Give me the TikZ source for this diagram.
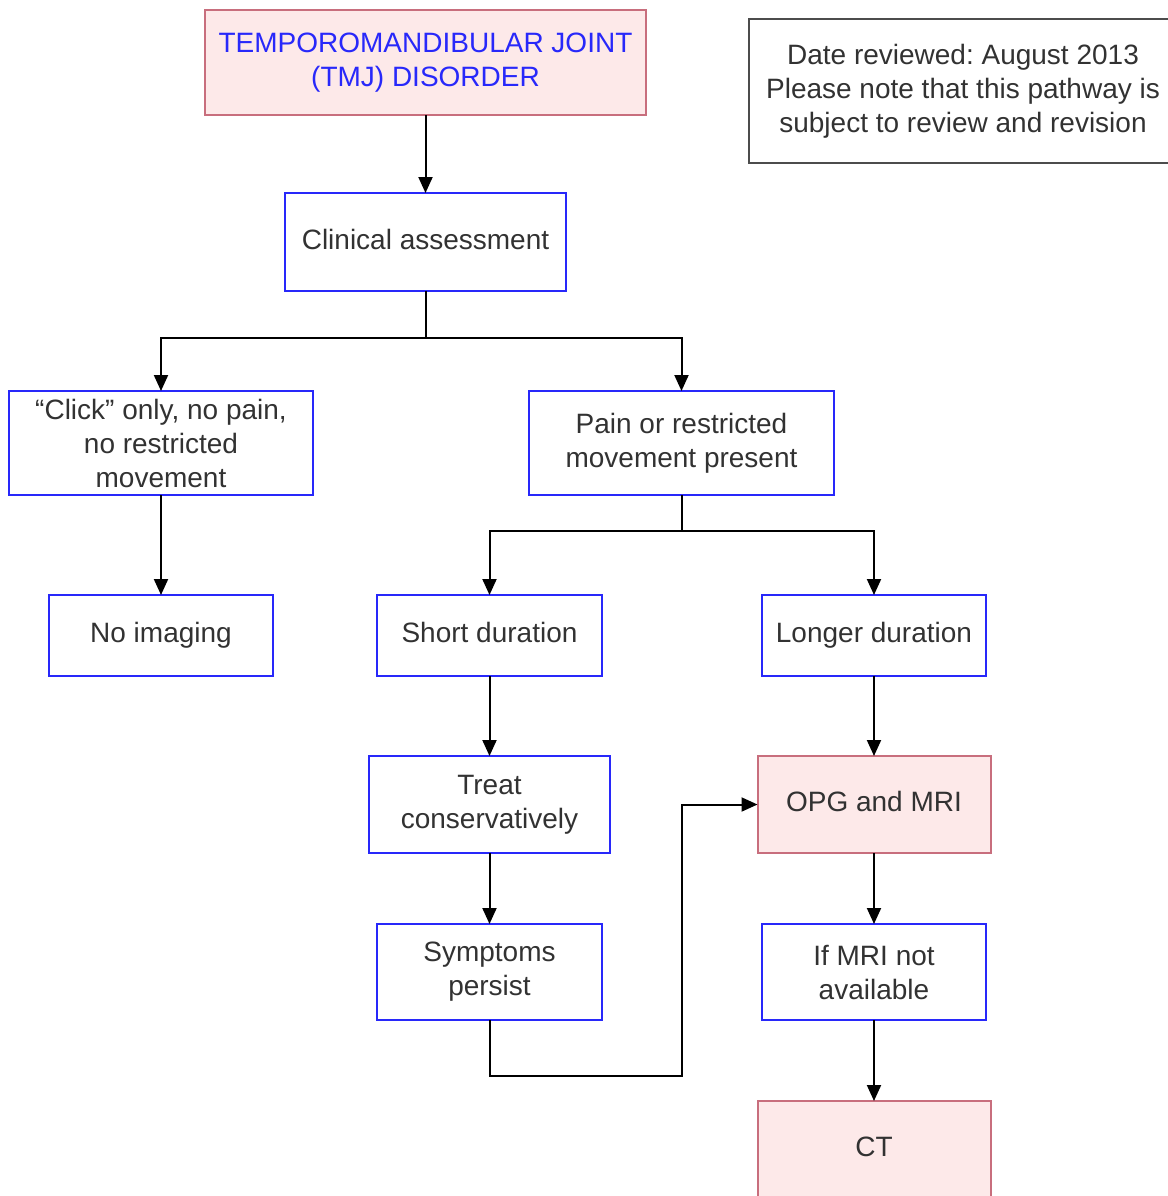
\documentclass[tikz,border=0pt]{standalone}
\usepackage{fontspec}
\setmainfont{Liberation Sans}
\usetikzlibrary{positioning,arrows.meta}
\definecolor{boxblue}{RGB}{40,40,250}
\definecolor{pinkfill}{RGB}{253,233,233}
\definecolor{pinkline}{RGB}{200,110,125}
\definecolor{textgray}{RGB}{50,50,50}
\frenchspacing

\begin{document}
\begin{tikzpicture}[
    box/.style={draw=boxblue, line width=1pt, align=center, inner sep=2pt, outer sep=0pt, text=textgray,
                font=\fontsize{14}{17}\selectfont},
    redbox/.style={box, draw=pinkline, fill=pinkfill},
    oneline/.style={text height=10pt, text depth=3pt},
    arr/.style={-{Triangle[length=8pt,width=7pt]}, line width=1pt}
]
\useasboundingbox (0,0) rectangle (584pt,-598pt);
\node[redbox, minimum width=220.5pt, minimum height=52.5pt, text=boxblue] (tmj) at (212.75pt,-31.25pt)
    {TEMPOROMANDIBULAR JOINT\\(TMJ) DISORDER};
\node[draw=black!70, line width=1pt, align=center, anchor=north west, minimum width=214pt, minimum height=72pt,
      text=textgray, font=\fontsize{14}{17}\selectfont] (note) at (374pt,-9pt)
    {Date reviewed: August 2013\\Please note that this pathway is\\subject to review and revision};
\node[box, oneline, below=39pt of tmj, minimum width=140.5pt, minimum height=49pt] (clinical) {Clinical assessment};
\node[box, below=50pt of clinical, xshift=-132.25pt, minimum width=152pt, minimum height=52pt] (click)
    {``Click'' only, no pain,\\no restricted\\movement};
\node[box, below=50pt of clinical, xshift=128pt, minimum width=152.5pt, minimum height=52pt] (pain)
    {Pain or restricted\\movement present};
\node[box, oneline, below=50pt of click, minimum width=112pt, minimum height=40.5pt] (noimg) {No imaging};
\node[box, oneline, below=50pt of pain, xshift=-96pt, minimum width=112.5pt, minimum height=40.5pt] (short) {Short duration};
\node[box, oneline, below=50pt of pain, xshift=96.25pt, minimum width=112pt, minimum height=40.5pt] (longer) {Longer duration};
\node[box, below=40pt of short, minimum width=120.5pt, minimum height=48.5pt] (treat) {Treat\\conservatively};
\node[redbox, oneline, below=40pt of longer, minimum width=116.5pt, minimum height=48.5pt] (opg) {OPG and MRI};
\node[box, below=35.5pt of treat, minimum width=112.5pt, minimum height=48pt] (persist) {Symptoms\\persist};
\node[box, below=35.5pt of opg, minimum width=112pt, minimum height=48pt] (nomri) {If MRI not\\available};
\node[redbox, oneline, below=40.5pt of nomri, minimum width=116.5pt, minimum height=48.5pt] (ct) {CT};
\coordinate[below=23.5pt of clinical] (split1);
\coordinate[below=18pt of pain] (split2);
\coordinate[below=28pt of persist] (loop);
\coordinate[left=38pt of opg] (bend);
\draw[arr] (tmj) -- (clinical);
\draw[line width=1pt] (clinical) -- (split1);
\draw[arr] (split1) -| (click);
\draw[arr] (split1) -| (pain);
\draw[arr] (click) -- (noimg);
\draw[line width=1pt] (pain) -- (split2);
\draw[arr] (split2) -| (short);
\draw[arr] (split2) -| (longer);
\draw[arr] (short) -- (treat);
\draw[arr] (treat) -- (persist);
\draw[arr] (longer) -- (opg);
\draw[arr] (opg) -- (nomri);
\draw[arr] (nomri) -- (ct);
\draw[arr] (persist) -- (loop) -| (bend) -- (opg);
\end{tikzpicture}
\end{document}
